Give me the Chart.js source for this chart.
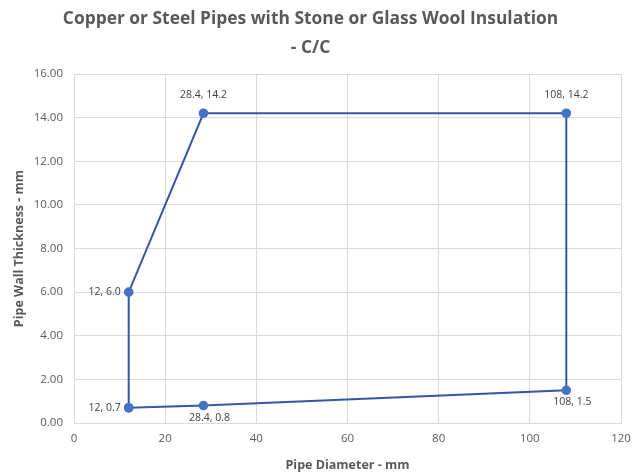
<!DOCTYPE html>
<html>
<head>
<meta charset="utf-8">
<script src="https://cdn.jsdelivr.net/npm/chart.js@4/dist/chart.umd.min.js"></script>
<style>
  html, body { margin: 0; padding: 0; background: #fff; }
  #wrap { width: 634px; height: 473px; }
</style>
</head>
<body>
<div id="wrap"><canvas id="c" width="634" height="473"></canvas></div>
<script>
// outline of the size range, walked round and closed back on the first point
const diameters = [12, 28.4, 108, 108, 28.4, 12, 12];
const thickness = [0.7, 0.8, 1.5, 14.2, 14.2, 6.0, 0.7];
// where each point's label sits relative to the marker
const labelPos = ['left', 'below', 'below', 'above', 'above', 'left'];

const points = diameters.map((d, i) => ({ x: d, y: thickness[i] }));

const FONT = '"Open Sans", "Liberation Sans", sans-serif';
const GREY = '#595959';

const pointLabels = {
  id: 'pointLabels',
  afterDatasetsDraw(chart) {
    const ctx = chart.ctx;
    const meta = chart.getDatasetMeta(0);
    ctx.save();
    ctx.font = '10.5px ' + FONT;
    ctx.fillStyle = '#404040';
    ctx.textBaseline = 'middle';
    labelPos.forEach((pos, i) => {
      const el = meta.data[i];
      const txt = diameters[i] + ', ' + thickness[i].toFixed(1);
      if (pos === 'left') {
        ctx.textAlign = 'right';
        ctx.fillText(txt, el.x - 8, el.y);
      } else if (pos === 'below') {
        ctx.textAlign = 'center';
        ctx.fillText(txt, el.x + 6, el.y + 12);
      } else {
        ctx.textAlign = 'center';
        ctx.fillText(txt, el.x, el.y - 18);
      }
    });
    ctx.restore();
  }
};

new Chart(document.getElementById('c'), {
  type: 'scatter',
  data: {
    datasets: [{
      data: points,
      showLine: true,
      borderColor: '#3358A4',
      borderWidth: 2,
      backgroundColor: '#4472C4',
      pointBackgroundColor: '#4472C4',
      pointBorderColor: '#4472C4',
      pointRadius: 3.8,
      tension: 0,
    }],
  },
  options: {
    responsive: false,
    animation: false,
    layout: { padding: { top: 0, left: 0, right: 13, bottom: 0 } },
    plugins: {
      legend: { display: false },
      tooltip: { enabled: false },
      title: {
        display: true,
        text: ['Copper or Steel Pipes with Stone or Glass Wool Insulation', '- C/C'],
        color: GREY,
        font: { family: FONT, size: 17.4, weight: 'bold', lineHeight: 29 / 17.4 },
        padding: { top: 5, bottom: 11 },
      },
    },
    scales: {
      x: {
        type: 'linear',
        min: 0,
        max: 120,
        ticks: { stepSize: 20, color: GREY, font: { family: FONT, size: 11.5 }, padding: 9 },
        grid: { color: '#d9d9d9', drawTicks: false },
        border: { color: '#d9d9d9' },
        title: {
          display: true,
          text: 'Pipe Diameter - mm',
          color: GREY,
          font: { family: FONT, size: 12.5, weight: 'bold' },
          padding: { top: 6, bottom: 0 },
        },
        afterFit(s) {
          s.height = 50;
          s.paddingLeft = 0;
          s.paddingRight = 0;
        },
      },
      y: {
        min: 0,
        max: 16,
        ticks: {
          stepSize: 2,
          color: GREY,
          font: { family: FONT, size: 11.5 },
          padding: 11,
          callback: (v) => v.toFixed(2),
        },
        grid: { color: '#d9d9d9', drawTicks: false },
        border: { color: '#d9d9d9' },
        title: {
          display: true,
          text: 'Pipe Wall Thickness - mm',
          color: GREY,
          font: { family: FONT, size: 12.5, weight: 'bold' },
          padding: { top: 12, bottom: 0 },
        },
        afterFit(s) {
          s.width = 74;
          s.paddingTop = 0;
          s.paddingBottom = 0;
        },
      },
    },
  },
  plugins: [pointLabels],
});
</script>
</body>
</html>
